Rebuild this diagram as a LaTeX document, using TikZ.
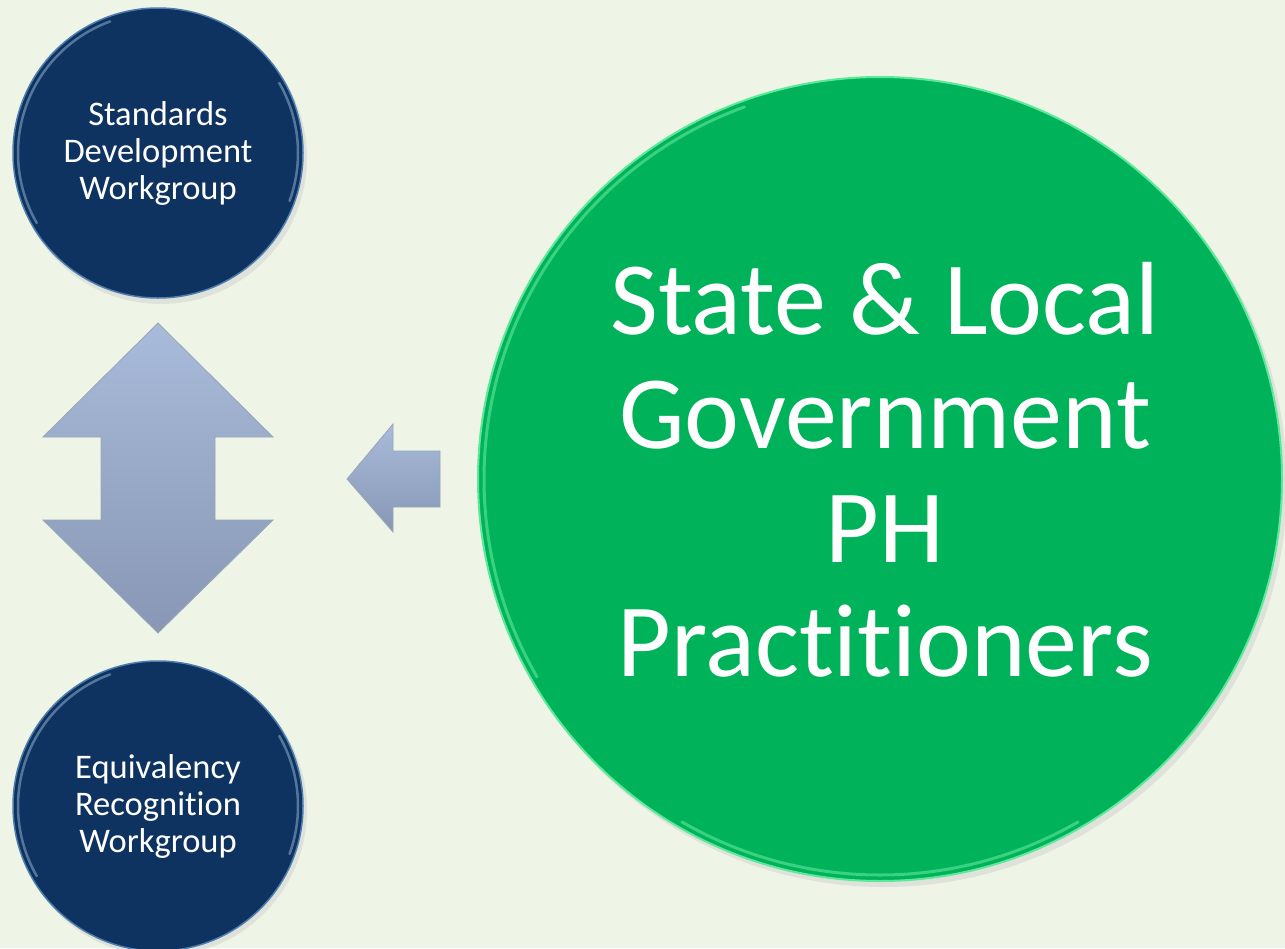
\documentclass[tikz,border=0pt]{standalone}
\usepackage{fontspec}
\setmainfont{Carlito}[Ligatures=NoCommon]
\definecolor{bgc}{HTML}{EEF5E6}
\definecolor{navy}{HTML}{0E3360}
\definecolor{navyedge}{HTML}{4F7DAE}
\definecolor{ogreen}{HTML}{00B25A}
\definecolor{greenedge}{HTML}{5EE89A}
\definecolor{arrtop}{HTML}{A9BBDA}
\definecolor{arrbot}{HTML}{8797B5}
\definecolor{arredge}{HTML}{9AA6B8}
\begin{document}
\begin{tikzpicture}[x=1pt,y=-1pt,
  navycircle/.style={circle, fill=navy, draw=navyedge, line width=1.5pt, minimum size=290pt, inner sep=0pt,
    text=white, align=center, font=\fontsize{34.5}{37}\selectfont},
  greencircle/.style={circle, fill=ogreen, draw=greenedge, line width=2pt, minimum size=804pt, inner sep=0pt},
  bigtext/.style={text=white, align=center, inner sep=0pt, font=\fontsize{104}{114}\selectfont},
  blockarrow/.style={top color=arrtop, bottom color=arrbot, draw=arredge, line width=0.8pt, line join=miter},
  bevel/.style={line width=2.5pt, line cap=round}
]
\fill[bgc] (0,0) rectangle (1285,948);
\useasboundingbox (0,0) rectangle (1285,948);
\clip (0,0) rectangle (1285,948);

% shadows
\fill[black!18, opacity=0.5] (161,158) circle (146);
\fill[black!18, opacity=0.5] (161,810) circle (146);
\fill[black!18, opacity=0.5] (884,484) circle (403);

\node[navycircle] (sdw) at (158,153) {Standards\\Development\\Workgroup};
\node[navycircle] (erw) at (158,806) {Equivalency\\Recognition\\Workgroup};
\node[greencircle] (slg) at (880,479) {};
\node[bigtext] (slgtext) at ([shift={(5,-9)}]slg.center) {State \& Local\\Government\\PH\\Practitioners};

% bevel highlights on the circles
\draw[bevel, navyedge!70!white, opacity=0.6] (sdw.center) ++(150:140) arc (150:250:140);
\draw[bevel, navyedge!70!white, opacity=0.6] (sdw.center) ++(-30:140) arc (-30:20:140);
\draw[bevel, navyedge!70!white, opacity=0.6] (erw.center) ++(150:140) arc (150:250:140);
\draw[bevel, navyedge!70!white, opacity=0.6] (erw.center) ++(-30:140) arc (-30:20:140);
\draw[bevel, greenedge, opacity=0.6, line width=3pt] (slg.center) ++(150:396) arc (150:250:396);
\draw[bevel, greenedge, opacity=0.6, line width=3pt] (slg.center) ++(60:396) arc (60:120:396);

% double arrow between the workgroups
\coordinate (dtop) at (158,323);
\coordinate (dbot) at (158,633);
\path[blockarrow] (dtop) -- ++(115,114) -- ++(-58,0) -- ++(0,83) -- ++(58,0)
  -- (dbot) -- ++(-115,-113) -- ++(58,0) -- ++(0,-83) -- ++(-58,0) -- cycle;

% small left arrow from the big circle
\coordinate (ltip) at (347,479);
\path[blockarrow] (ltip) -- ++(46,-55) -- ++(0,27) -- ++(47,0) -- ++(0,56)
  -- ++(-47,0) -- ++(0,25) -- cycle;
\end{tikzpicture}
\end{document}
